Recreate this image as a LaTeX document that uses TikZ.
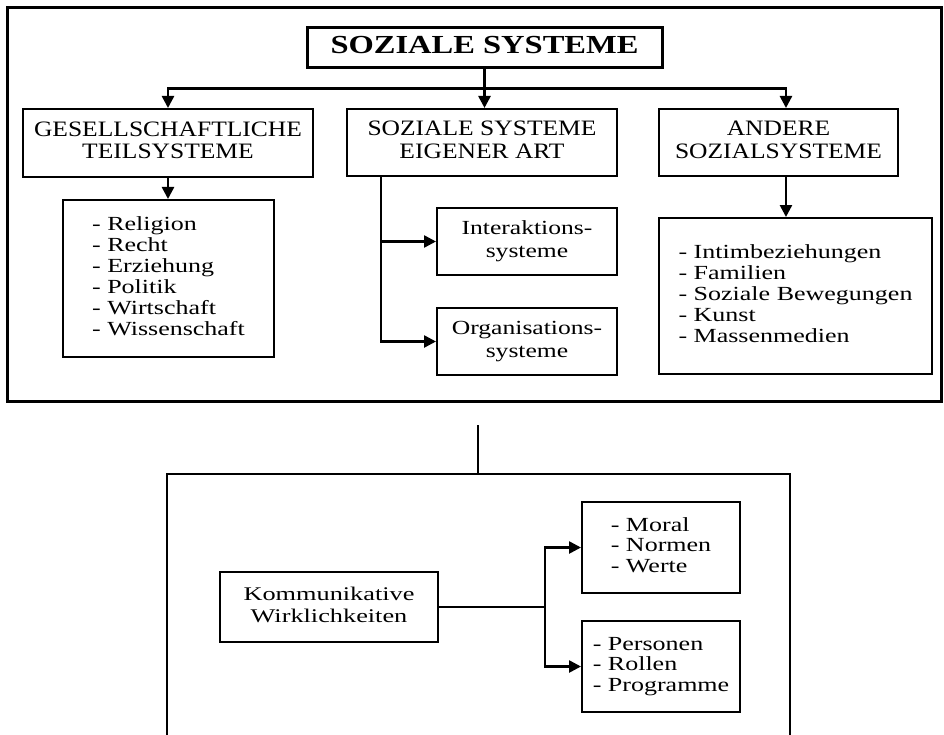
\documentclass[tikz,border=0pt]{standalone}
\usepackage{fontspec}
\usepackage{graphicx}
\setmainfont{Liberation Serif}
\usetikzlibrary{arrows.meta,calc}

% horizontally widened text block: #1 = x-scale, #2 = column alignment, #3 = lines
\newcommand{\wtext}[3]{\scalebox{#1}[1]{\begin{tabular}{@{}#2@{}}#3\end{tabular}}}

\begin{document}
\begin{tikzpicture}[x=0.75pt,y=-0.75pt,
  frame/.style={draw, line width=2.25pt, inner sep=0pt},
  box/.style={draw, line width=1.5pt, inner sep=0pt, align=center},
  titlebox/.style={box, line width=2.25pt, font=\fontsize{19.5}{21}\selectfont\bfseries},
  headbox/.style={box, font=\fontsize{16.5}{16.9}\selectfont},
  listbox/.style={box, font=\fontsize{15}{15.75}\selectfont},
  subbox/.style={box, font=\fontsize{15}{17}\selectfont},
  conn/.style={line width=1.9pt},
  thinconn/.style={line width=1.5pt},
  arrow/.style={conn, -{Triangle[length=9pt,width=9pt]}}]

\useasboundingbox (0,0) rectangle (944,734);
\clip (0,0) rectangle (944,734);

% ---------- upper frame ----------
\node[frame, minimum width=700.5pt, minimum height=294.75pt] (upper) at (474,204.5) {};

\node[titlebox, minimum width=266.25pt, minimum height=30pt] (title) at (484.5,48)
  {\wtext{1.25}{c}{SOZIALE SYSTEME}};

\node[headbox, minimum width=217.5pt, minimum height=51pt] (gesell) at (168,143)
  {\wtext{1.16}{c}{GESELLSCHAFTLICHE\\TEILSYSTEME}};
\node[headbox, minimum width=202.5pt, minimum height=50.25pt] (soz) at (482,142.5)
  {\wtext{1.16}{c}{SOZIALE SYSTEME\\EIGENER ART}};
\node[headbox, minimum width=179.25pt, minimum height=50.25pt] (andere) at (778.5,142.5)
  {\wtext{1.16}{c}{ANDERE\\SOZIALSYSTEME}};

\node[listbox, minimum width=158.25pt, minimum height=117.75pt] (glist) at (168.5,278.5)
  {\wtext{1.3}{l}{- Religion\\- Recht\\- Erziehung\\- Politik\\- Wirtschaft\\- Wissenschaft}};
\node[listbox, minimum width=204.75pt, minimum height=117pt] (alist) at (795.5,296)
  {\wtext{1.3}{l}{- Intimbeziehungen\\- Familien\\- Soziale Bewegungen\\- Kunst\\- Massenmedien}};

\node[subbox, minimum width=135pt, minimum height=50.25pt] (inter) at (527,241.5)
  {\wtext{1.28}{c}{Interaktions-\\systeme}};
\node[subbox, minimum width=135pt, minimum height=50.25pt] (org) at (527,341.5)
  {\wtext{1.28}{c}{Organisations-\\systeme}};

% connectors from the title
\coordinate (bus) at ($(title.south)+(0,19)$);
\draw[conn] (title.south) -- (bus);
\draw[arrow] (bus) -| (gesell.north);
\draw[arrow] (bus) -- (bus |- soz.north);
\draw[arrow] (bus) -| ([xshift=5.6pt]andere.north);

\draw[arrow] (gesell.south) -- (gesell.south |- glist.north);
\draw[arrow] ([xshift=5.6pt]andere.south) -- ([xshift=5.6pt]andere.south |- alist.north);

% branch of the systems of their own kind
\coordinate (sozdrop) at ($(soz.south west)+(35,0)$);
\draw[arrow] (sozdrop) |- (inter.west);
\draw[arrow] (sozdrop) |- (org.west);

% ---------- lower frame ----------
\coordinate (gapend) at (478,425);
\coordinate (lowtop) at (478,474);
\draw[thinconn] (gapend) -- (lowtop);
\draw[conn] (167,740) -- (167,474) -- (790,474) -- (790,740);

\node[listbox, minimum width=163.5pt, minimum height=52.5pt, font=\fontsize{14.5}{16.5}\selectfont] (komm) at (329,607)
  {\wtext{1.36}{c}{Kommunikative\\Wirklichkeiten}};
\node[listbox, minimum width=118.5pt, minimum height=68.25pt, font=\fontsize{15}{15.4}\selectfont] (moral) at (661,547.5)
  {\wtext{1.3}{l}{- Moral\\- Normen\\- Werte}};
\node[listbox, minimum width=118.5pt, minimum height=68.25pt, font=\fontsize{15}{15.4}\selectfont] (pers) at (661,666.5)
  {\wtext{1.3}{l}{- Personen\\- Rollen\\- Programme}};

\coordinate (kfork) at ($(komm.east)+(106,0)$);
\draw[thinconn] (komm.east) -- (kfork);
\draw[arrow] (kfork) |- (moral.west);
\draw[arrow] (kfork) |- (pers.west);

\end{tikzpicture}
\end{document}
